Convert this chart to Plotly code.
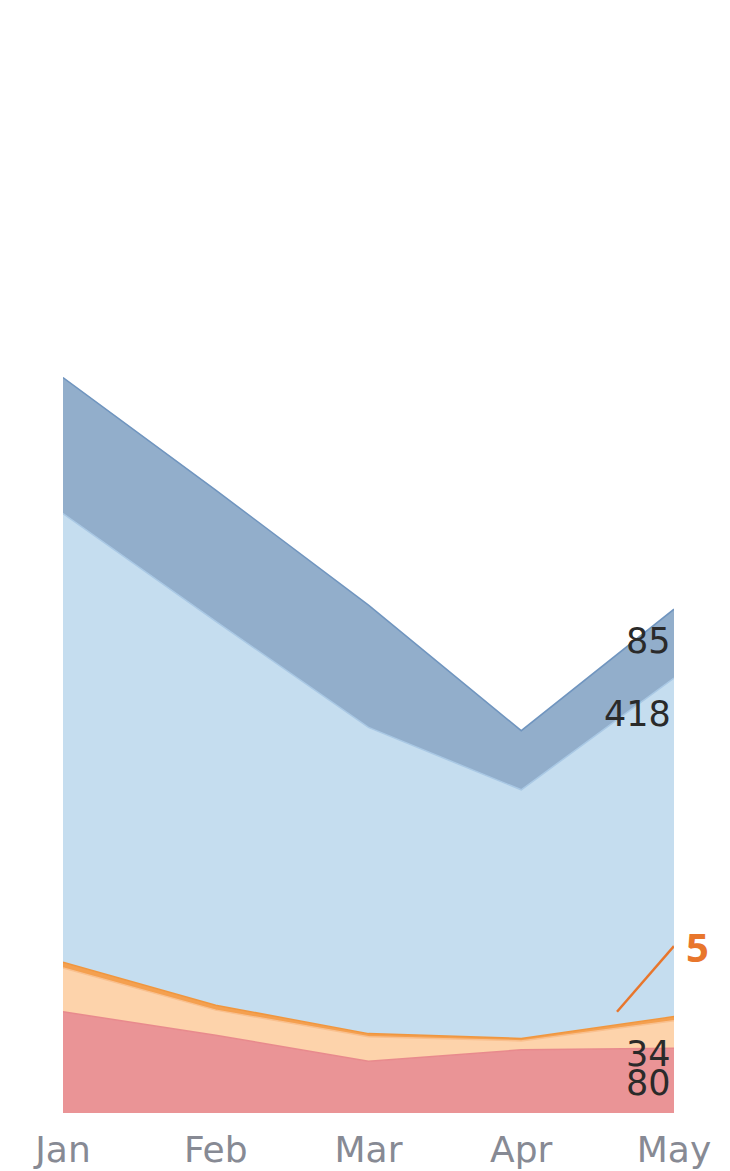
import plotly.graph_objects as go

months = ["Jan", "Feb", "Mar", "Apr", "May"]
s_red = [125, 96, 64, 78, 80]
s_peach = [54, 31, 30, 11, 34]
s_orange = [7, 6, 4, 3, 5]
s_lightblue = [554, 474, 378, 307, 418]
s_darkblue = [168, 162, 151, 73, 85]

series = [
    ("Red", s_red, "rgba(234,148,150,1)", "#e88a8d"),
    ("Peach", s_peach, "rgba(253,211,171,1)", "#f9c08f"),
    ("Orange", s_orange, "rgba(244,160,80,1)", "#f0963e"),
    ("Light blue", s_lightblue, "rgba(197,221,239,1)", "#a9c8e4"),
    ("Dark blue", s_darkblue, "rgba(146,174,203,1)", "#7095bf"),
]

fig = go.Figure()
for name, vals, fill, line in series:
    fig.add_trace(go.Scatter(
        x=months, y=vals, name=name, mode="lines",
        stackgroup="one", fillcolor=fill,
        line=dict(color=line, width=1.5),
    ))

FONT = "DejaVu Sans, Verdana, sans-serif"
label_font = dict(family=FONT, size=35, color="#2a2a2a")
cum = 0
tops = []
for _, vals, _, _ in series:
    cum += vals[-1]
    tops.append(cum)

fig.add_annotation(x="May", y=tops[4] - s_darkblue[-1] / 2 + 3, text=str(s_darkblue[-1]),
                   showarrow=False, xanchor="right", yanchor="middle", font=label_font, xshift=-1)
fig.add_annotation(x="May", y=tops[3] - 45, text=str(s_lightblue[-1]),
                   showarrow=False, xanchor="right", yanchor="middle", font=label_font, xshift=-1)
fig.add_annotation(x="May", y=73, text=str(s_peach[-1]),
                   showarrow=False, xanchor="right", yanchor="middle", font=label_font, xshift=-1)
fig.add_annotation(x="May", y=37, text=str(s_red[-1]),
                   showarrow=False, xanchor="right", yanchor="middle", font=label_font, xshift=-1)
fig.add_annotation(x="May", y=206, text="<b>%d</b>" % s_orange[-1],
                   showarrow=False, xanchor="left", yanchor="middle", xshift=10,
                   font=dict(family="Open Sans, DejaVu Sans, sans-serif", size=40, color="#e8762c"))
fig.add_shape(type="line", xref="x", yref="y", x0=3.627, y0=125, x1=4, y1=206,
              line=dict(color="#e8762c", width=2.5))

fig.update_layout(
    width=730, height=1171,
    margin=dict(l=55, r=64, t=295, b=66, autoexpand=False),
    paper_bgcolor="white", plot_bgcolor="white",
    showlegend=False,
    xaxis=dict(type="category", range=[0, 4], showgrid=False, zeroline=False,
               showline=False, ticks="", ticklabelstandoff=12,
               tickfont=dict(family=FONT, size=36, color="#878a94")),
    yaxis=dict(range=[0, 1000], showgrid=False, zeroline=False, showline=False,
               showticklabels=False, ticks=""),
)

fig.write_html("out.html")
